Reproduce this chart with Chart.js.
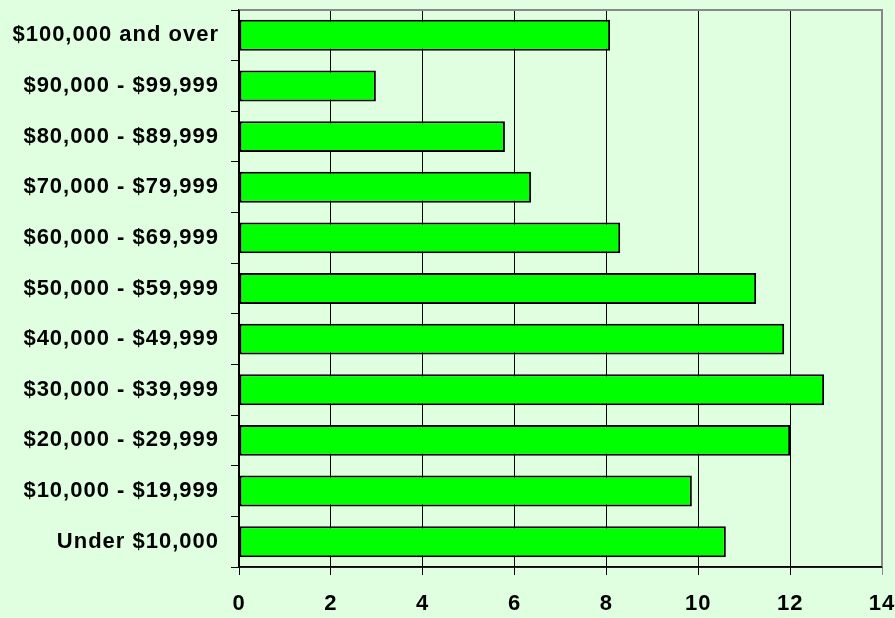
<!DOCTYPE html>
<html>
<head>
<meta charset="utf-8">
<script src="https://cdn.jsdelivr.net/npm/chart.js@4"></script>
<style>
  html, body { margin: 0; padding: 0; background: #E0FFE0; }
  #wrap { width: 895px; height: 618px; }
</style>
</head>
<body>
<div id="wrap"><canvas id="barChart"></canvas></div>
<script>
const incomeRanges = ['$100,000 and over', '$90,000 - $99,999', '$80,000 - $89,999', '$70,000 - $79,999',
  '$60,000 - $69,999', '$50,000 - $59,999', '$40,000 - $49,999', '$30,000 - $39,999',
  '$20,000 - $29,999', '$10,000 - $19,999', 'Under $10,000']
const percents = [8.08, 2.98, 5.79, 6.36, 8.3, 11.26, 11.87, 12.74, 12.0, 9.86, 10.6]
const xTicks = [0, 2, 4, 6, 8, 10, 12, 14]

const labelFont = { family: 'Liberation Sans', size: 22, weight: 'bold' }

// wider text like the original, and the plot frame
const frame = {
  id: 'frame',
  beforeLayout(chart) {
    chart.ctx.letterSpacing = '1px'
  },
  beforeDraw(chart) {
    chart.ctx.letterSpacing = '1px'
  },
  afterDraw(chart) {
    const { ctx, chartArea: a } = chart
    ctx.save()
    ctx.strokeStyle = '#888888'
    ctx.lineWidth = 2
    ctx.beginPath()
    ctx.moveTo(a.left, a.top)
    ctx.lineTo(a.right, a.top)
    ctx.lineTo(a.right, a.bottom)
    ctx.stroke()
    ctx.strokeStyle = '#000'
    ctx.lineWidth = 1.5
    ctx.beginPath()
    ctx.moveTo(a.left, a.top)
    ctx.lineTo(a.left, a.bottom)
    ctx.lineTo(a.right, a.bottom)
    ctx.stroke()
    ctx.restore()
  }
}

const ctx = document.getElementById('barChart')
new Chart(ctx, {
  type: 'bar',
  data: {
    labels: incomeRanges,
    datasets: [{
      data: percents,
      backgroundColor: '#00FF00',
      borderColor: '#000000',
      borderWidth: 2,
      borderSkipped: false,
      barPercentage: 0.61,
      categoryPercentage: 1
    }]
  },
  options: {
    indexAxis: 'y',
    responsive: true,
    maintainAspectRatio: false,
    animation: false,
    layout: { padding: { top: 10, right: 13, left: 0, bottom: 0 } },
    plugins: { legend: { display: false }, tooltip: { enabled: false } },
    scales: {
      x: {
        min: 0,
        max: 14,
        afterBuildTicks: (axis) => { axis.ticks = xTicks.map(v => ({ value: v })) },
        afterFit: (axis) => { axis.height = 51; axis.paddingLeft = 0; axis.paddingRight = 0 },
        grid: { color: (c) => c.index === xTicks.length - 1 ? '#888888' : '#000000', lineWidth: 1, tickLength: 8, drawTicks: true },
        border: { color: '#000', width: 1.5 },
        ticks: { color: '#000', padding: 16, font: labelFont }
      },
      y: {
        afterFit: (axis) => { axis.width = 239; axis.paddingTop = 0; axis.paddingBottom = 0 },
        grid: { drawOnChartArea: false, color: '#000', tickLength: 8 },
        border: { color: '#000', width: 1.5 },
        ticks: { color: '#000', padding: 12, font: labelFont }
      }
    }
  },
  plugins: [frame]
})
</script>
</body>
</html>
